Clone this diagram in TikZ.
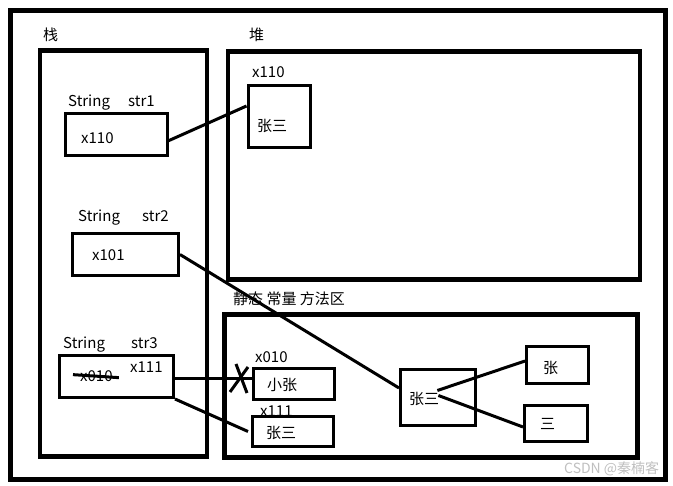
\documentclass[tikz,border=0pt]{standalone}
\usepackage{fontspec}
\setmainfont{Noto Sans CJK SC}
\usetikzlibrary{positioning,calc}
\tikzset{
  areabox/.style={rectangle,draw=black,line width=4.5pt,inner sep=0pt},
  cellbox/.style={rectangle,draw=black,line width=3pt,inner sep=0pt},
  celltext/.style={inner sep=0pt,anchor=base west,text=black,font=\fontsize{15}{18}\selectfont},
  refline/.style={line width=3pt,color=black},
  marktext/.style={inner sep=0pt,anchor=base west,text=black!25,font=\fontsize{14}{16}\selectfont},
}

\begin{document}
\begin{tikzpicture}[x=1pt,y=-1pt]
  \useasboundingbox (0,0) rectangle (673,486);

  % memory areas
  \node[areabox,line width=5pt,minimum width=655pt,minimum height=469pt] (mem) at (338,245) {};
  \node[areabox,minimum width=167pt,minimum height=406pt] (stack) at (123.5,253.5) {};
  \node[areabox,minimum width=412pt,minimum height=228pt] (heap) at (434,165.5) {};
  \node[areabox,minimum width=413pt,minimum height=143pt] (static) at (431,386) {};
  \node[celltext] (stacklbl) at (43,41) {栈};
  \node[celltext] (heaplbl) at (249,41) {堆};
  \node[celltext] (staticlbl) at (233,305) {静态 常量 方法区};

  % stack variables
  \node[cellbox,minimum width=101.5pt,minimum height=42.5pt] (s1) at (116.25,134.75) {};
  \node[celltext] (s1type) at (68,107) {String};
  \node[celltext] (s1name) at (128,107) {str1};
  \node[celltext] (s1val) at (81,144) {x110};

  \node[cellbox,minimum width=106pt,minimum height=42pt] (s2) at (125.5,254.5) {};
  \node[celltext] (s2type) at (78,222) {String};
  \node[celltext] (s2name) at (142,222) {str2};
  \node[celltext] (s2val) at (92,261) {x101};

  \node[cellbox,minimum width=114pt,minimum height=42pt] (s3) at (116.5,376.5) {};
  \node[celltext] (s3type) at (63,349) {String};
  \node[celltext] (s3name) at (131,349) {str3};
  \node[celltext] (s3old) at (80,382) {x010};
  \node[celltext] (s3val) at (130,373) {x111};
  \draw[refline] ([xshift=-7pt,yshift=2pt]s3old.west) -- ([xshift=6pt,yshift=-1pt]s3old.east);

  % heap object
  \node[cellbox,minimum width=62pt,minimum height=62pt] (h1) at (279,117) {};
  \node[celltext] (h1addr) at (252,78) {x110};
  \node[celltext] (h1val) at (257,132) {张三};

  % constant pool
  \node[cellbox,minimum width=81pt,minimum height=31pt] (p1) at (294,384) {};
  \node[celltext] (p1addr) at (255,363) {x010};
  \node[celltext] (p1val) at (267,391) {小张};
  \node[cellbox,minimum width=81pt,minimum height=30pt] (p2) at (293,431.5) {};
  \node[celltext] (p2addr) at (260,417) {x111};
  \node[celltext] (p2val) at (266,439) {张三};

  \node[cellbox,minimum width=75pt,minimum height=56pt] (c1) at (438,397.5) {};
  \node[celltext] (c1val) at (409,405) {张三};
  \node[cellbox,minimum width=62pt,minimum height=37pt] (c2) at (557.5,365) {};
  \node[celltext] (c2val) at (543,374) {张};
  \node[cellbox,minimum width=63pt,minimum height=36pt] (c3) at (556,423.5) {};
  \node[celltext] (c3val) at (540,430) {三};

  \node[marktext] (wm) at (564,474) {CSDN @秦楠客};

  % references
  \draw[refline] ([yshift=-6pt]s1.east) -- ([yshift=11pt]h1.west);
  \draw[refline] (s2.east) -- ([yshift=9.5pt]c1.west);
  \coordinate (s3out) at ([yshift=-2.5pt]s3.east);
  \draw[refline] (s3out) -- (s3out -| p1.west);
  \coordinate (cut) at (239,379);
  \draw[refline] ([shift={(-3,-15)}]cut) -- ([shift={(8,14)}]cut);
  \draw[refline] ([shift={(9,-12)}]cut) -- ([shift={(-9,13)}]cut);
  \draw[refline] (s3.south east) -- ([xshift=-3pt]p2.west);
  \draw[refline] ([xshift=-2pt,yshift=9pt]c1val.east) -- ([yshift=4pt]c2.west);
  \draw[refline] ([xshift=-1pt,yshift=4pt]c1val.east) -- ([yshift=-3.5pt]c3.west);
\end{tikzpicture}
\end{document}
